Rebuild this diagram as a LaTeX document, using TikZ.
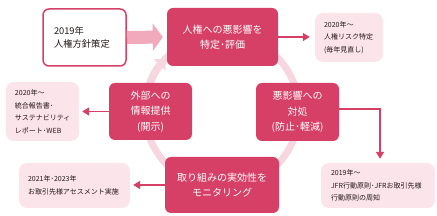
\documentclass[tikz,border=0pt]{standalone}
\usepackage{fontspec}
\setmainfont{Noto Sans CJK JP}
\usetikzlibrary{arrows.meta}
\definecolor{crim}{RGB}{214,64,102}
\definecolor{lpink}{RGB}{252,228,235}
\definecolor{ringc}{RGB}{246,214,223}
\definecolor{thickc}{RGB}{241,170,188}
\definecolor{dtext}{RGB}{35,24,21}
\begin{document}
\begin{tikzpicture}[x=1pt,y=1pt,
  cbox/.style={fill=crim,text=white,rounded corners=6pt,inner sep=0pt,align=center,
    font=\fontsize{10}{14.5}\selectfont},
  lbox/.style={fill=lpink,text=dtext,rounded corners=8pt,inner ysep=0pt,align=left,
    font=\fontsize{7}{12.5}\selectfont},
  wbox/.style={draw=crim,line width=1.5pt,fill=white,text=dtext,rounded corners=6pt,
    inner ysep=0pt,inner xsep=11pt,align=left,font=\fontsize{9.3}{13}\selectfont},
  carrow/.style={draw=crim,line width=1.5pt,-{Triangle[width=8pt,length=7pt]}},
  thickarrow/.style={draw=thickc,line width=13pt,-{Triangle[width=27pt,length=10pt]}},
  ringstyle/.style={draw=ringc,line width=7pt}]
\useasboundingbox (0,0) rectangle (437,-216);
\coordinate (cen) at (222,-111);
\draw[ringstyle] (cen) circle[radius=77];
\draw[ringstyle,-{Triangle[width=16pt,length=9pt]}] (cen) ++(180:77) arc[start angle=180,end angle=137,radius=77];

\node[cbox,minimum width=111pt,minimum height=58pt] (top) at (222.5,-37) {人権への悪影響を\\特定･評価};
\node[wbox,text width=61pt,minimum height=57pt] (y2019) at (84.5,-37.5) {2019年\\人権方針策定};
\node[lbox,inner xsep=9pt,text width=50pt,minimum height=49pt] (tr) at (349,-37.5) {2020年～\\人権リスク特定\\(毎年見直し)};
\node[cbox,minimum width=83pt,minimum height=58pt,font=\fontsize{10}{15.5}\selectfont] (rt) at (297.5,-112) {悪影響への\\対処\\(防止･軽減)};
\node[cbox,minimum width=83pt,minimum height=57pt,font=\fontsize{10}{15.5}\selectfont] (lf) at (150.5,-111.5) {外部への\\情報提供\\(開示)};
\node[lbox,inner xsep=9pt,text width=55pt,minimum height=59pt] (ll) at (42.5,-111.5) {2020年～\\統合報告書･\\サステナビリティ\\レポート･WEB};
\node[cbox,minimum width=114pt,minimum height=56pt] (bt) at (222,-185) {取り組みの実効性を\\モニタリング};
\node[lbox,inner xsep=9pt,text width=93pt,minimum height=45pt] (bl) at (74.5,-185.5) {2021年･2023年\\お取引先様アセスメント実施};
\node[lbox,inner xsep=10pt,text width=94pt,minimum height=45pt] (br) at (378,-185.5) {2019年～\\JFR行動原則･JFRお取引先様\\行動原則の周知};

\draw[thickarrow,shorten >=4pt] (y2019.east) -- (top.west);
\draw[carrow,shorten >=5pt] (top.east) -- (top.east -| tr.west);
\draw[carrow,shorten >=4pt] ([yshift=3pt]rt.east) -| ([xshift=2pt]br.north);
\draw[carrow,shorten >=3pt] (lf.west) -- (lf.west -| ll.east);
\draw[carrow,shorten >=3pt] (bt.west) -- (bt.west -| bl.east);
\end{tikzpicture}
\end{document}
